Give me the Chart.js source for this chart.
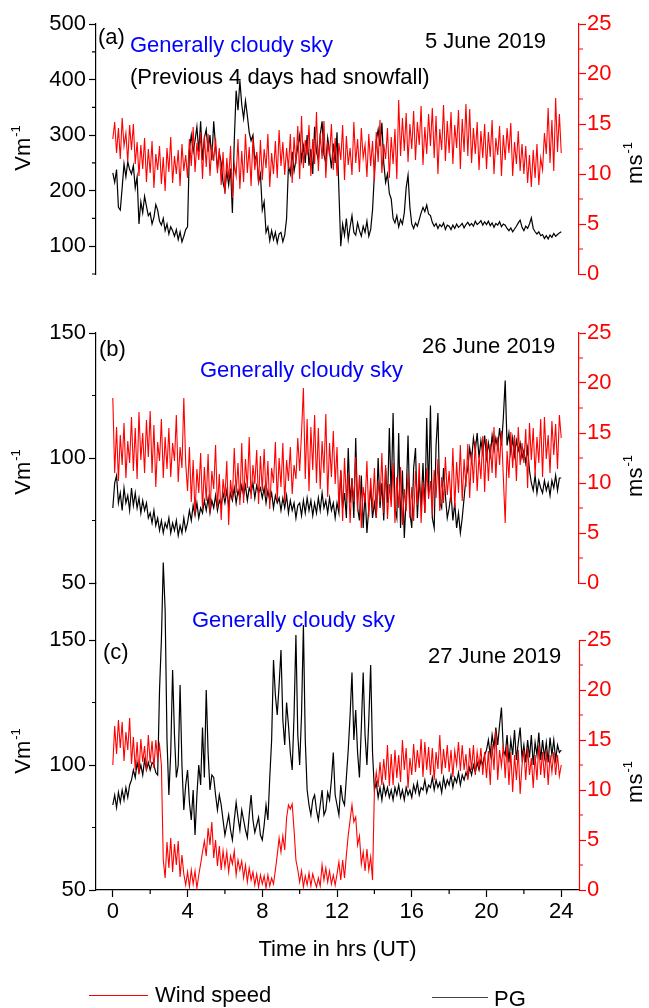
<!DOCTYPE html>
<html>
<head>
<meta charset="utf-8">
<script src="https://cdn.jsdelivr.net/npm/chart.js@4.4.0/dist/chart.umd.min.js"></script>
<style>
  body { margin: 0; background: #fff; }
  #page { position: relative; width: 649px; height: 1008px; overflow: hidden; font-family: 'Liberation Sans', Arial, sans-serif; }
  canvas { position: absolute; left: 0; }
  .txt { position: absolute; font-size: 22px; line-height: 22px; white-space: nowrap; color: #000; }
  .blue { color: #0000ff; }
  .ytitle { position: absolute; font-size: 22px; line-height: 22px; white-space: nowrap; color: #000;
            transform: translate(-50%, -50%) rotate(-90deg); }
  .sup { font-size: 13px; position: relative; top: -10px; margin-left: 1px; }
  .legline { position: absolute; height: 0; }
</style>
</head>
<body>
<div id="page">
  <canvas id="chartA" width="649" height="300" style="top:0px"></canvas>
  <canvas id="chartB" width="649" height="300" style="top:300px"></canvas>
  <canvas id="chartC" width="649" height="468" style="top:540px"></canvas>

  <!-- panel annotations -->
  <div class="txt" style="left:98px; top:26px">(a)</div>
  <div class="txt blue" style="left:130px; top:34px">Generally cloudy sky</div>
  <div class="txt" style="left:130px; top:66px">(Previous 4 days had snowfall)</div>
  <div class="txt" style="left:425px; top:30px">5 June 2019</div>

  <div class="txt" style="left:99px; top:338px">(b)</div>
  <div class="txt blue" style="left:200px; top:359px">Generally cloudy sky</div>
  <div class="txt" style="left:422px; top:335px">26 June 2019</div>

  <div class="txt" style="left:103px; top:641px">(c)</div>
  <div class="txt blue" style="left:192px; top:609px">Generally cloudy sky</div>
  <div class="txt" style="left:428px; top:645px">27 June 2019</div>

  <!-- axis titles -->
  <div class="ytitle" style="left:24px; top:148px">Vm<span class="sup">-1</span></div>
  <div class="ytitle" style="left:24px; top:472px">Vm<span class="sup">-1</span></div>
  <div class="ytitle" style="left:24px; top:751px">Vm<span class="sup">-1</span></div>
  <div class="ytitle" style="left:636px; top:163px">ms<span class="sup">-1</span></div>
  <div class="ytitle" style="left:636px; top:476px">ms<span class="sup">-1</span></div>
  <div class="ytitle" style="left:636px; top:782px">ms<span class="sup">-1</span></div>

  <!-- legend -->
  <div class="legline" style="left:89px; top:995px; width:59px; border-top:1.5px solid #ff0000"></div>
  <div class="txt" style="left:155px; top:984px">Wind speed</div>
  <div class="legline" style="left:432px; top:997px; width:56px; border-top:1.5px solid #444"></div>
  <div class="txt" style="left:494px; top:988px">PG</div>
</div>

<script>
// time of each sample, hours UT
const hours = [
  0, 0.1, 0.2, 0.3, 0.4, 0.5, 0.6, 0.7, 0.8, 0.9,
  1, 1.1, 1.2, 1.3, 1.4, 1.5, 1.6, 1.7, 1.8, 1.9,
  2, 2.1, 2.2, 2.3, 2.4, 2.5, 2.6, 2.7, 2.8, 2.9,
  3, 3.1, 3.2, 3.3, 3.4, 3.5, 3.6, 3.7, 3.8, 3.9,
  4, 4.1, 4.2, 4.3, 4.4, 4.5, 4.6, 4.7, 4.8, 4.9,
  5, 5.1, 5.2, 5.3, 5.4, 5.5, 5.6, 5.7, 5.8, 5.9,
  6, 6.1, 6.2, 6.3, 6.4, 6.5, 6.6, 6.7, 6.8, 6.9,
  7, 7.1, 7.2, 7.3, 7.4, 7.5, 7.6, 7.7, 7.8, 7.9,
  8, 8.1, 8.2, 8.3, 8.4, 8.5, 8.6, 8.7, 8.8, 8.9,
  9, 9.1, 9.2, 9.3, 9.4, 9.5, 9.6, 9.7, 9.8, 9.9,
  10, 10.1, 10.2, 10.3, 10.4, 10.5, 10.6, 10.7, 10.8, 10.9,
  11, 11.1, 11.2, 11.3, 11.4, 11.5, 11.6, 11.7, 11.8, 11.9,
  12, 12.1, 12.2, 12.3, 12.4, 12.5, 12.6, 12.7, 12.8, 12.9,
  13, 13.1, 13.2, 13.3, 13.4, 13.5, 13.6, 13.7, 13.8, 13.9,
  14, 14.1, 14.2, 14.3, 14.4, 14.5, 14.6, 14.7, 14.8, 14.9,
  15, 15.1, 15.2, 15.3, 15.4, 15.5, 15.6, 15.7, 15.8, 15.9,
  16, 16.1, 16.2, 16.3, 16.4, 16.5, 16.6, 16.7, 16.8, 16.9,
  17, 17.1, 17.2, 17.3, 17.4, 17.5, 17.6, 17.7, 17.8, 17.9,
  18, 18.1, 18.2, 18.3, 18.4, 18.5, 18.6, 18.7, 18.8, 18.9,
  19, 19.1, 19.2, 19.3, 19.4, 19.5, 19.6, 19.7, 19.8, 19.9,
  20, 20.1, 20.2, 20.3, 20.4, 20.5, 20.6, 20.7, 20.8, 20.9,
  21, 21.1, 21.2, 21.3, 21.4, 21.5, 21.6, 21.7, 21.8, 21.9,
  22, 22.1, 22.2, 22.3, 22.4, 22.5, 22.6, 22.7, 22.8, 22.9,
  23, 23.1, 23.2, 23.3, 23.4, 23.5, 23.6, 23.7, 23.8, 23.9,
  24
];

// (a) 5 June 2019 - PG (V/m) and wind speed (m/s)
const pgA = [
  232, 215, 238, 170, 165, 205, 248, 225, 252, 238,
  230, 245, 205, 225, 140, 180, 160, 190, 172, 155,
  160, 140, 152, 175, 165, 145, 138, 150, 128, 140,
  122, 135, 128, 118, 130, 112, 126, 108, 118, 130,
  135, 275, 300, 270, 290, 315, 270, 325, 255, 295,
  310, 270, 300, 255, 325, 280, 240, 268, 250, 215,
  200, 235, 210, 240, 160, 290, 380, 345, 398, 355,
  330, 362, 335, 305, 290, 300, 255, 265, 215, 230,
  165, 180, 125, 135, 110, 128, 112, 125, 106, 122,
  125, 108, 120, 150, 245, 230, 270, 235, 255, 280,
  300, 255, 280, 250, 300, 245, 275, 230, 315, 270,
  255, 300, 325, 265, 250, 295, 270, 240, 285, 250,
  305, 200, 100, 140, 120, 150, 112, 135, 155, 125,
  120, 142, 128, 118, 136, 125, 145, 118, 130, 165,
  230, 290, 310, 280, 322, 250, 215, 230, 195, 185,
  150, 142, 155, 135, 148, 140, 160, 205, 228, 170,
  140, 132, 142, 136, 148, 160, 170, 162, 174, 158,
  155, 143, 136, 141, 132, 139, 135, 142, 130, 138,
  136, 130, 138, 132, 140, 134, 137, 141, 133, 139,
  143, 137, 141, 136, 145, 139, 142, 146, 138, 144,
  139, 145, 137, 142, 134, 141, 138, 144, 135, 140,
  138, 132, 128, 133, 126, 131, 136, 142, 147, 134,
  128, 136, 132, 140, 151, 132, 126, 122, 126, 119,
  121, 114, 119, 113, 120, 116, 123, 118, 121, 124,
  126
];
const windA = [
  13.5, 15.2, 12.1, 14.6, 11.5, 15.6, 12.8, 14.1, 11.2, 14.9,
  12.4, 15.0, 11.0, 13.2, 9.8, 12.9, 10.5, 13.6, 9.2, 12.5,
  10.1, 13.3, 8.6, 12.0, 10.4, 12.8, 9.0, 11.7, 8.3, 12.6,
  10.2, 13.7, 9.1, 11.8, 10.0, 12.4, 8.8, 13.0, 10.3, 11.9,
  9.6, 13.5, 10.8, 14.7, 10.2, 13.1, 11.4, 14.2, 9.5, 13.8,
  10.7, 14.0, 9.8, 12.9, 11.3, 13.6, 10.1, 12.6, 8.9, 12.2,
  8.0, 11.6, 9.4, 12.8, 7.6, 11.0, 9.8, 13.5, 8.5, 12.3,
  9.2, 14.0, 10.1, 12.7, 8.8, 13.6, 10.4, 12.2, 9.0, 13.4,
  9.4, 12.5, 10.6, 14.0, 8.7, 12.1, 10.0, 13.3, 9.6, 14.4,
  10.8, 13.2, 9.9, 12.6, 10.5, 14.0, 9.1, 13.7, 11.0, 14.8,
  9.5, 15.8, 10.6, 13.4, 11.9, 14.9, 9.8, 13.5, 11.0, 16.2,
  10.3, 14.1, 11.5, 15.3, 9.6, 13.2, 11.8, 15.0, 10.4, 13.6,
  9.8, 13.1, 11.4, 14.9, 9.4, 13.8, 10.9, 12.6, 9.9, 15.2,
  11.1, 13.5, 10.2, 14.6, 11.6, 12.9, 9.7, 14.0, 10.8, 13.3,
  9.3, 14.2, 11.2, 15.4, 10.1, 13.0, 11.5, 14.6, 9.6, 13.7,
  11.0, 14.5, 9.5, 17.4, 11.8, 15.6, 12.3, 16.1, 11.2, 15.0,
  12.5, 16.3, 11.4, 15.2, 12.9, 16.8, 10.9, 14.7, 12.0, 16.0,
  12.8, 16.6, 11.6, 15.8, 10.0, 14.5, 12.4, 16.9, 11.3, 15.3,
  12.1, 16.2, 11.0, 14.9, 12.6, 16.4, 10.5, 15.5, 12.2, 17.0,
  11.8, 16.5, 11.1, 14.6, 12.0, 15.2, 10.4, 14.3, 11.6, 15.0,
  10.5, 14.2, 11.7, 15.4, 10.0, 13.6, 11.9, 14.8, 9.8, 13.9,
  11.4, 14.6, 12.1, 15.1, 9.8, 13.2, 11.0, 14.3, 10.3, 13.0,
  10.0, 12.8, 9.1, 11.9, 8.7, 12.4, 9.6, 13.0, 8.9, 11.6,
  10.4, 14.1, 12.0, 16.6, 11.1, 15.4, 10.3, 17.6, 12.2, 16.0,
  12.1
];

// (b) 26 June 2019
const pgB = [
  80, 90, 93, 82, 86, 79, 88, 82, 85, 79,
  88, 81, 86, 80, 84, 78, 83, 79, 82, 76,
  78, 74, 79, 73, 76, 71, 75, 70, 74, 72,
  76, 70, 74, 71, 75, 69, 73, 70, 76, 71,
  74, 79, 75, 81, 77, 82, 76, 80, 78, 83,
  79, 84, 78, 83, 80, 85, 79, 83, 81, 86,
  82, 87, 81, 86, 83, 88, 82, 87, 84, 89,
  85, 89, 83, 88, 86, 90, 84, 89, 86, 88,
  84, 88, 82, 87, 83, 86, 80, 85, 82, 84,
  79, 84, 80, 85, 78, 83, 79, 82, 76, 81,
  82, 77, 83, 78, 84, 79, 83, 77, 82, 78,
  84, 79, 86, 80, 83, 78, 84, 79, 82, 76,
  82, 78, 95, 80, 86, 76, 104, 82, 92, 76,
  108, 80, 75, 93, 72, 86, 70, 80, 88, 76,
  82, 76, 100, 80, 90, 75, 96, 82, 112, 84,
  118, 80, 76, 110, 72, 95, 68, 84, 109, 78,
  72, 96, 104, 76, 92, 80, 98, 78, 116, 86,
  121, 76, 72, 105, 118, 82, 80, 96, 85, 76,
  80, 86, 75, 82, 72, 78, 70, 76, 84, 92,
  96, 104, 99, 108, 103, 110, 100, 107, 102, 109,
  100, 106, 101, 109, 103, 108, 104, 112, 105, 116,
  131, 105, 110, 102, 108, 101, 107, 103, 106, 100,
  103, 98, 104, 95, 90, 87, 93, 86, 91, 88,
  86, 91, 87, 90, 85, 91, 88, 93, 87, 92,
  92
];
const windB = [
  18.5, 11.0, 15.6, 10.2, 14.8, 11.8, 16.0, 10.5, 14.2, 12.0,
  16.6, 11.2, 15.5, 10.4, 17.1, 12.3, 15.0, 11.0, 16.3, 12.6,
  17.2, 11.0, 15.8, 9.6, 14.1, 12.2, 16.4, 10.5, 14.6, 11.4,
  15.5, 10.6, 14.0, 12.2, 16.8, 10.1, 13.6, 11.5, 18.5, 12.0,
  9.2, 13.6, 8.1, 12.3, 6.8, 11.4, 9.0, 13.0, 7.4, 11.6,
  8.2, 12.9, 7.0, 11.2, 9.4, 13.8, 7.5, 10.9, 6.3, 10.4,
  8.6, 12.2, 5.8, 10.3, 8.4, 13.5, 9.0, 12.0, 7.8, 14.0,
  8.0, 12.4, 9.5, 14.6, 8.4, 11.8, 9.9, 13.3, 7.9, 12.7,
  9.2, 13.4, 8.6, 12.2, 7.4, 11.5, 10.0, 14.1, 8.2, 12.5,
  9.6, 14.0, 8.0, 12.3, 10.2, 13.6, 8.9, 11.8, 10.4, 14.5,
  11.2, 15.0, 19.5, 10.4, 16.4, 9.2, 15.6, 11.3, 16.8, 10.0,
  15.5, 9.4, 14.2, 11.0, 16.9, 8.6, 14.0, 10.6, 15.2, 9.9,
  13.6, 7.4, 11.3, 6.2, 12.5, 8.3, 11.0, 6.0, 10.4, 8.1,
  12.6, 7.2, 10.8, 5.5, 9.6, 8.0, 12.2, 6.6, 10.5, 7.3,
  11.5, 6.5, 10.2, 8.1, 13.0, 7.0, 11.8, 6.4, 9.9, 7.6,
  12.0, 6.0, 10.6, 7.5, 11.6, 5.8, 9.4, 7.2, 11.0, 6.5,
  9.6, 6.2, 11.2, 7.8, 12.0, 6.0, 10.1, 7.0, 11.5, 8.4,
  10.2, 6.8, 11.3, 8.5, 12.4, 7.2, 10.6, 8.0, 12.6, 8.8,
  11.2, 8.0, 13.5, 7.5, 12.1, 9.0, 13.8, 8.2, 12.4, 9.6,
  13.9, 8.5, 13.1, 10.0, 14.2, 9.2, 12.8, 10.4, 14.7, 9.1,
  14.4, 10.2, 13.9, 11.0, 15.6, 10.5, 14.6, 11.8, 15.2, 10.6,
  6.0, 13.2, 10.5, 15.1, 11.5, 14.8, 10.2, 15.6, 11.8, 14.0,
  12.0, 15.4, 9.5, 16.0, 12.3, 15.5, 10.8, 14.6, 12.0, 16.4,
  10.6, 16.6, 12.4, 14.8, 11.0, 16.2, 12.8, 15.9, 11.4, 16.8,
  14.5
];

// (c) 27 June 2019
const pgC = [
  84, 88, 83, 89, 85, 90, 86, 91, 87, 92,
  94, 98, 95, 101, 97, 100, 96, 102, 98, 101,
  98, 101, 100, 97, 96, 130, 150, 181, 162, 110,
  88, 105, 138, 112, 95, 100, 132, 100, 82, 92,
  98, 85, 78, 90, 72, 88, 100, 92, 115, 95,
  130, 105, 90, 96, 95, 88, 82, 88, 84, 78,
  72, 76, 80, 74, 70, 78, 85, 79, 74, 82,
  78, 74, 71, 80, 88, 78, 73, 76, 79, 72,
  70, 76, 84, 78, 95, 110, 142, 128, 120, 132,
  146, 118, 108, 125, 116, 105, 98, 120, 152, 112,
  100, 120, 156, 110, 90, 84, 80, 86, 88, 82,
  78, 84, 90, 80, 82, 89, 86, 94, 105, 88,
  84, 80, 92, 86, 84, 95, 106, 120, 137, 110,
  122, 105, 95, 115, 137, 112, 100, 118, 140, 105,
  90, 93, 87, 91, 86, 92, 88, 91, 87, 90,
  86, 91, 88, 92, 87, 90, 86, 91, 88, 90,
  87, 92, 89, 93, 88, 91, 90, 94, 89, 92,
  91, 95, 90, 94, 91, 93, 89, 95, 91, 94,
  92, 96, 91, 95, 93, 97, 92, 96, 94, 97,
  95, 99, 96, 100, 97, 101, 98, 102, 100, 104,
  106, 110, 104, 112, 107, 115, 108, 116, 123, 106,
  104, 112, 101, 110, 104, 114, 102, 109, 115, 103,
  108, 101, 110, 103, 112, 100, 109, 104, 113, 102,
  110, 103, 109, 101, 111, 104, 110, 102, 108, 105,
  106
];
const windC = [
  12.5, 16.4, 13.6, 17.0, 14.2, 16.8, 12.9, 15.8, 14.0, 17.2,
  12.6, 15.3, 12.0, 14.8, 11.6, 15.1, 12.8, 14.4, 11.9, 15.5,
  12.7, 14.9, 12.2, 15.0, 13.1, 14.5, 12.5, 3.0, 1.2, 4.8,
  2.2, 5.2, 1.8, 4.6, 2.5, 4.9, 1.3, 3.5, 1.6, 0.5,
  1.8, 0.3, 2.0, 0.6, 1.9, 0.2, 1.5, 2.6, 3.8, 4.9,
  3.4, 6.2, 4.5, 6.8, 3.2, 5.0, 2.4, 4.4, 2.0, 3.9,
  2.3, 3.8, 1.8, 3.4, 2.6, 3.9, 1.5, 3.0, 2.0, 2.9,
  1.2, 2.5, 0.8, 2.2, 1.0, 1.8, 0.5, 1.6, 0.3, 1.5,
  0.6, 1.4, 0.2, 1.5, 0.4, 1.2, 0.6, 2.0, 3.5, 5.2,
  3.8, 5.4, 4.0, 7.2, 8.5, 8.1, 8.6, 6.0, 3.0, 2.0,
  0.8, 1.9, 0.3, 1.4, 0.5, 1.7, 0.4, 1.6, 0.9, 0.3,
  1.2, 0.4, 2.5, 1.0, 2.2, 0.8, 1.9, 0.6, 1.5, 0.5,
  1.6, 2.8, 1.0, 3.0, 1.2, 3.5, 5.5, 7.0, 8.5, 6.8,
  7.3, 4.5, 5.4, 2.6, 3.8, 1.9, 4.1, 2.0, 3.3, 1.0,
  10.0, 11.8, 10.3, 12.8, 10.5, 13.1, 11.0, 14.5, 10.4, 13.6,
  10.5, 14.0, 11.2, 13.5, 10.8, 15.0, 12.0, 14.2, 10.2, 13.2,
  11.5, 14.6, 11.8, 14.0, 12.2, 15.1, 11.3, 14.8, 12.0, 14.3,
  11.5, 14.2, 11.0, 13.8, 12.1, 15.5, 11.6, 14.1, 12.2, 14.5,
  11.8, 14.0, 11.3, 13.9, 12.5, 14.8, 11.9, 14.5, 12.0, 13.6,
  11.0, 14.2, 12.0, 14.5, 11.5, 13.8, 12.3, 14.2, 11.5, 13.8,
  11.2, 13.9, 10.5, 14.6, 12.0, 16.0, 11.0, 14.0, 12.4, 14.5,
  11.2, 14.5, 10.5, 13.8, 9.8, 13.5, 11.0, 14.0, 9.6, 12.5,
  14.0, 11.0, 14.2, 11.5, 13.2, 10.2, 13.5, 11.0, 14.5, 11.5,
  13.8, 11.2, 14.0, 10.5, 13.5, 11.8, 13.8, 11.5, 13.5, 11.4,
  12.5
];

// axis ticks: labelled (major) values and all tick positions (major + minor)
const xTickValues = [0, 2, 4, 6, 8, 10, 12, 14, 16, 18, 20, 22, 24];
const xTickLabels = [0, 4, 8, 12, 16, 20, 24];
const leftTicksA = [50, 100, 150, 200, 250, 300, 350, 400, 450, 500];
const leftLabelsA = [100, 200, 300, 400, 500];
const leftTicksBC = [50, 75, 100, 125, 150];
const leftLabelsBC = [50, 100, 150];
const rightTicks = [0, 2.5, 5, 7.5, 10, 12.5, 15, 17.5, 20, 22.5, 25];
const rightLabels = [0, 5, 10, 15, 20, 25];

Chart.defaults.font.family = "'Liberation Sans', Arial, sans-serif";
Chart.defaults.font.size = 22;
Chart.defaults.color = '#000';

const toPoints = vals => hours.map((h, i) => ({ x: h, y: vals[i] }));

// short minor ticks and the red axis line that stops at 25 (panel c)
const axisExtras = {
    id: 'axisExtras',
    afterDraw(chart, args, opts) {
        const ctx = chart.ctx;
        ctx.save();
        ctx.lineWidth = 1.2;
        opts.minor.forEach(m => {
            const s = chart.scales[m.scaleId];
            if (!s) return;
            ctx.strokeStyle = m.color;
            ctx.beginPath();
            m.values.filter(v => !m.skip.includes(v)).forEach(v => {
                const p = s.getPixelForValue(v);
                if (m.side === 'left') { ctx.moveTo(s.right - 4, p); ctx.lineTo(s.right, p); }
                else if (m.side === 'right') { ctx.moveTo(s.left, p); ctx.lineTo(s.left + 4, p); }
                else { ctx.moveTo(p, s.top); ctx.lineTo(p, s.top + 4); }
            });
            ctx.stroke();
        });
        if (opts.partialRight) {
            const s = chart.scales.yR;
            ctx.strokeStyle = '#ff0000';
            ctx.beginPath();
            ctx.moveTo(s.left + 0.5, s.getPixelForValue(0));
            ctx.lineTo(s.left + 0.5, s.getPixelForValue(25));
            ctx.stroke();
        }
        ctx.restore();
    }
};

function makePanel(canvasId, pg, wind, cfg) {
    const xAxis = {
        type: 'linear', min: -0.9, max: 24.95, display: cfg.showX
    };
    if (cfg.showX) {
        Object.assign(xAxis, {
            afterFit: s => { s.height = 118; },
            afterBuildTicks: s => { s.ticks = xTickLabels.map(v => ({ value: v })); },
            ticks: { autoSkip: false, maxRotation: 0, padding: 2, color: '#000' },
            grid: { drawOnChartArea: false, tickLength: 7, tickColor: '#000', tickWidth: 1.2 },
            border: { color: '#000', width: 1.2 },
            title: { display: true, text: 'Time in hrs (UT)', color: '#000', font: { size: 22 }, padding: { top: 0, bottom: 45 } }
        });
    }

    const minor = [
        { scaleId: 'yL', side: 'left', color: '#000', values: cfg.leftTicks, skip: cfg.leftLabels },
        { scaleId: 'yR', side: 'right', color: '#ff0000', values: rightTicks, skip: rightLabels }
    ];
    if (cfg.showX) {
        minor.push({ scaleId: 'x', side: 'bottom', color: '#000', values: xTickValues, skip: xTickLabels });
    }

    return new Chart(document.getElementById(canvasId), {
        type: 'line',
        data: {
            datasets: [
                { label: 'Wind speed', data: toPoints(wind), yAxisID: 'yR', borderColor: '#ff0000', borderWidth: 1.1, pointRadius: 0, tension: 0 },
                { label: 'PG', data: toPoints(pg), yAxisID: 'yL', borderColor: '#000', borderWidth: 1.2, pointRadius: 0, tension: 0, clip: false }
            ]
        },
        options: {
            responsive: false,
            animation: false,
            events: [],
            layout: { padding: { top: cfg.padTop, bottom: cfg.padBottom, left: 0, right: 0 } },
            plugins: {
                legend: { display: false },
                tooltip: { enabled: false },
                axisExtras: { minor: minor, partialRight: cfg.partialRight }
            },
            scales: {
                x: xAxis,
                yL: {
                    type: 'linear', position: 'left', min: cfg.leftMin, max: cfg.leftMax,
                    afterFit: s => { s.width = 96; },
                    afterBuildTicks: s => { s.ticks = cfg.leftLabels.map(v => ({ value: v })); },
                    ticks: { autoSkip: false, padding: 3, color: '#000' },
                    grid: { drawOnChartArea: false, tickLength: 7, tickColor: '#000', tickWidth: 1.2 },
                    border: { color: '#000', width: 1.2 }
                },
                yR: {
                    type: 'linear', position: 'right', min: 0, max: cfg.rightMax,
                    afterFit: s => { s.width = 70; },
                    afterBuildTicks: s => { s.ticks = rightLabels.map(v => ({ value: v })); },
                    ticks: { autoSkip: false, padding: 1, color: '#ff0000' },
                    grid: { drawOnChartArea: false, tickLength: 7, tickColor: '#ff0000', tickWidth: 1.2 },
                    border: { display: !cfg.partialRight, color: '#ff0000', width: 1.2 }
                }
            }
        },
        plugins: [axisExtras]
    });
}

makePanel('chartA', pgA, windA, {
    showX: false, padTop: 24, padBottom: 26,
    leftMin: 50, leftMax: 500, leftTicks: leftTicksA, leftLabels: leftLabelsA,
    rightMax: 25, partialRight: false
});
makePanel('chartB', pgB, windB, {
    showX: false, padTop: 33, padBottom: 17,
    leftMin: 50, leftMax: 150, leftTicks: leftTicksBC, leftLabels: leftLabelsBC,
    rightMax: 25, partialRight: false
});
makePanel('chartC', pgC, windC, {
    showX: true, padTop: 43, padBottom: 0,
    leftMin: 50, leftMax: 172.8, leftTicks: leftTicksBC, leftLabels: leftLabelsBC,
    rightMax: 30.7, partialRight: true
});
</script>
</body>
</html>
